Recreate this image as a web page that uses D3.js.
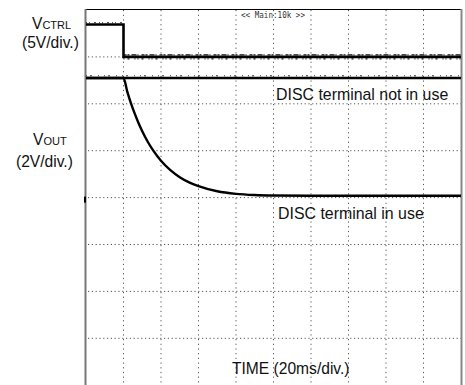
<!DOCTYPE html>
<html>
<head>
<meta charset="utf-8">
<script src="https://cdn.jsdelivr.net/npm/d3@7"></script>
<style>
  html, body { margin: 0; padding: 0; background: #fff; }
  svg { display: block; }
  text { font-family: "Liberation Sans", Arial, sans-serif; fill: #111; }
</style>
</head>
<body>
<svg id="chart" width="465" height="385"></svg>
<script>
// ---- data (time in ms, 20 ms/div) ----
const timeTicks = [0, 20, 40, 60, 80, 100, 120, 140, 160, 180, 200];
const divTicks = [0, 1, 2, 3, 4, 5, 6, 7, 8];

// VCTRL (5 V/div)
const vctrlTime  = [0, 20, 20, 200];
const vctrlVolts = [3.45, 3.45, 0, 0];

// VOUT, DISC terminal not in use (2 V/div)
const voutOffTime  = [0, 200];
const voutOffVolts = [5.1, 5.1];

// VOUT, DISC terminal in use (2 V/div)
const voutOnTime  = [0, 20, 22, 24, 26, 28, 30, 33, 36, 40, 45, 50, 55, 60, 70, 80, 90, 100, 120, 150, 200];
const voutOnVolts = [5.1, 5.1, 4.52, 4.02, 3.58, 3.18, 2.83, 2.37, 1.99, 1.57, 1.17, 0.87, 0.65, 0.49, 0.27, 0.16, 0.11, 0.09, 0.08, 0.08, 0.08];

(function () {
// ---- layout ----
const svg = d3.select("#chart");
const pLeft = 86, pRight = 461, pTop = 10, divH = 46.9;
const pBottom = pTop + 8 * divH;

const x = d3.scaleLinear().domain([0, 200]).range([pLeft, pRight]);
const yDiv = d3.scaleLinear().domain([0, 8]).range([pTop, pBottom]);
const yCtrl = d3.scaleLinear().domain([5, -35]).range([pTop, pBottom]);   // zero at 1st division
const yOut  = d3.scaleLinear().domain([8, -8]).range([pTop, pBottom]);    // zero at 4th division

// grid (dotted)
const grid = svg.append("g");
grid.selectAll("line.v").data(timeTicks.slice(1, -1)).enter().append("line")
  .attr("x1", d => x(d)).attr("x2", d => x(d))
  .attr("y1", pTop).attr("y2", 385)
  .attr("stroke", "#555").attr("stroke-width", 1)
  .attr("stroke-dasharray", "1.2,3.5");
grid.selectAll("line.h").data(divTicks.slice(1, -1)).enter().append("line")
  .attr("x1", pLeft + 2).attr("x2", pRight)
  .attr("y1", d => yDiv(d)).attr("y2", d => yDiv(d))
  .attr("stroke", "#555").attr("stroke-width", 1)
  .attr("stroke-dasharray", "1.2,2.6");

// frame
svg.append("line").attr("x1", pLeft).attr("x2", pRight).attr("y1", pTop - 0.5).attr("y2", pTop - 0.5)
  .attr("stroke", "#000").attr("stroke-width", 1);
svg.append("line").attr("x1", pLeft - 0.5).attr("x2", pLeft - 0.5).attr("y1", pTop - 1).attr("y2", 385)
  .attr("stroke", "#777").attr("stroke-width", 2);
svg.append("line").attr("x1", pRight + 0.5).attr("x2", pRight + 0.5).attr("y1", pTop - 1).attr("y2", 385)
  .attr("stroke", "#888").attr("stroke-width", 2);
// ground marker
svg.append("rect").attr("x", pLeft - 2).attr("y", yOut(0) - 1).attr("width", 2).attr("height", 6).attr("fill", "#000");

// traces
const lineCtrl = d3.line().x(d => x(d[0])).y(d => yCtrl(d[1]));
const lineOut = d3.line().x(d => x(d[0])).y(d => yOut(d[1])).curve(d3.curveMonotoneX);
const lineStep = d3.line().x(d => x(d[0])).y(d => yOut(d[1]));

const ctrlData = d3.zip(vctrlTime, vctrlVolts);
const offData = d3.zip(voutOffTime, voutOffVolts);
const onData = d3.zip(voutOnTime, voutOnVolts);

svg.append("path").datum(ctrlData).attr("d", lineCtrl)
  .attr("fill", "none").attr("stroke", "#000").attr("stroke-width", 2.6);
svg.append("path").datum(offData).attr("d", lineStep)
  .attr("fill", "none").attr("stroke", "#000").attr("stroke-width", 2.6);
svg.append("path").datum(onData).attr("d", lineOut)
  .attr("fill", "none").attr("stroke", "#000").attr("stroke-width", 2.4);

// acquisition noise speckle (texture only)
svg.append("path").datum(ctrlData.slice(0, 2)).attr("d", lineCtrl)
  .attr("transform", "translate(0,-1.8)")
  .attr("fill", "none").attr("stroke", "#222").attr("stroke-width", 1.2)
  .attr("stroke-dasharray", "1,2,1,4,2,3");
svg.append("path").datum(ctrlData.slice(2)).attr("d", lineCtrl)
  .attr("transform", "translate(0,-2)")
  .attr("fill", "none").attr("stroke", "#111").attr("stroke-width", 1.4)
  .attr("stroke-dasharray", "3,1,2,2,5,1,1,3");
svg.append("path").datum(ctrlData.slice(2)).attr("d", lineCtrl)
  .attr("transform", "translate(0,2)")
  .attr("fill", "none").attr("stroke", "#111").attr("stroke-width", 1.2)
  .attr("stroke-dasharray", "1,3,2,5,1,2");
svg.append("path").datum(offData).attr("d", lineStep)
  .attr("transform", "translate(0,-2.2)")
  .attr("fill", "none").attr("stroke", "#333").attr("stroke-width", 1)
  .attr("stroke-dasharray", "1,3,2,6,1,5");

// header text
svg.append("text").attr("x", 241).attr("y", 18.3)
  .attr("textLength", 64).attr("lengthAdjust", "spacingAndGlyphs")
  .style("font-family", "'DejaVu Sans Mono', monospace").style("font-size", "8.6px").style("fill", "#333")
  .text("<< Main:10k >>");

// channel labels
const fs = 15.6;
const t1 = svg.append("text").attr("x", 32).attr("y", 29).style("font-size", fs + "px");
t1.append("tspan").text("V");
t1.append("tspan").style("font-size", "11px").text("CTRL");
svg.append("text").attr("x", 22).attr("y", 48).style("font-size", fs + "px").text("(5V/div.)");

const t2 = svg.append("text").attr("x", 33).attr("y", 145).style("font-size", fs + "px");
t2.append("tspan").text("V");
t2.append("tspan").style("font-size", "11px").text("OUT");
svg.append("text").attr("x", 16).attr("y", 166.7).style("font-size", fs + "px").text("(2V/div.)");

// annotations
svg.append("text").attr("x", 276).attr("y", 100).style("font-size", "15.9px").text("DISC terminal not in use");
svg.append("text").attr("x", 278).attr("y", 219).style("font-size", "15.9px").text("DISC terminal in use");
svg.append("text").attr("x", 232).attr("y", 374.3).style("font-size", fs + "px").text("TIME (20ms/div.)");
})();
</script>
</body>
</html>
